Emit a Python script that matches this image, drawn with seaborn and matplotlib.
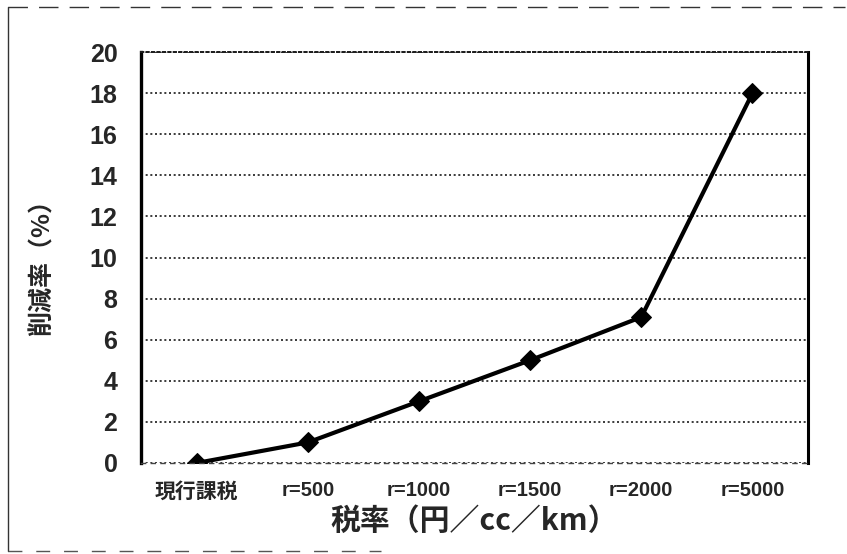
import matplotlib
matplotlib.use("Agg")
import matplotlib.pyplot as plt
from matplotlib.lines import Line2D
import seaborn as sns
import pandas as pd

categories = ["現行課税", "r=500", "r=1000", "r=1500", "r=2000", "r=5000"]
reduction = [0.0, 1.0, 3.0, 5.0, 7.1, 18.0]
y_ticks = [0, 2, 4, 6, 8, 10, 12, 14, 16, 18, 20]

sns.set_theme(style="white")
plt.rcParams["font.family"] = ["Noto Sans CJK JP", "DejaVu Sans"]

df = pd.DataFrame({"tax": categories, "rate": reduction})

fig = plt.figure(figsize=(8.47, 5.54), dpi=100)
ax = fig.add_axes([0.1665, 0.1643, 0.7875, 0.7417])

sns.lineplot(data=df, x="tax", y="rate", sort=False, ax=ax,
             color="black", linewidth=3.0, marker="D", markersize=10,
             markeredgecolor="black", markerfacecolor="black")

ax.set_xlim(-0.5, len(categories) - 0.5)
ax.set_ylim(0, 20)
ax.set_yticks(y_ticks)
ax.yaxis.grid(True, linestyle=(0, (1.2, 1.6)), color="#1a1a1a", linewidth=1.2)
ax.xaxis.grid(False)

latin = ["Liberation Sans", "Noto Sans CJK JP"]
for lbl in ax.get_yticklabels():
    lbl.set_fontsize(18)
    lbl.set_fontweight("bold")
    lbl.set_family(latin)
for lbl in ax.get_xticklabels():
    lbl.set_fontweight("bold")
    if lbl.get_text().startswith("r="):
        lbl.set_fontsize(14.5)
        lbl.set_family(latin)
    else:
        lbl.set_fontsize(15)
ax.tick_params(axis="y", length=0, pad=17)
ax.tick_params(axis="x", length=0, pad=13)

ax.set_xlabel("税率（円／cc／km）", fontsize=21.5, fontweight="bold", labelpad=3)
ax.set_ylabel("削減率（%）", fontsize=18, fontweight="bold")
ax.yaxis.set_label_coords(-0.13, 0.49)

ax.spines["left"].set_linewidth(2.4)
ax.spines["left"].set_color("black")
ax.spines["right"].set_linewidth(2.2)
ax.spines["right"].set_color("black")
ax.spines["top"].set_linestyle((0, (1.2, 1.6)))
ax.spines["top"].set_linewidth(1.4)
ax.spines["top"].set_color("#1a1a1a")
ax.spines["bottom"].set_linestyle((0, (3, 4)))
ax.spines["bottom"].set_linewidth(1.0)
ax.spines["bottom"].set_color("#444444")

# outer frame of the chart sheet
fig.add_artist(Line2D([0.009, 0.998], [0.987, 0.987], transform=fig.transFigure,
                      color="#333333", linewidth=1.0, linestyle=(0, (14, 8))))
fig.add_artist(Line2D([0.009, 0.009], [0.006, 0.987], transform=fig.transFigure,
                      color="#333333", linewidth=1.0))
fig.add_artist(Line2D([0.009, 0.45], [0.006, 0.006], transform=fig.transFigure,
                      color="#555555", linewidth=1.0, linestyle=(0, (10, 10))))

fig.savefig("out.png", dpi=100, facecolor="white")
